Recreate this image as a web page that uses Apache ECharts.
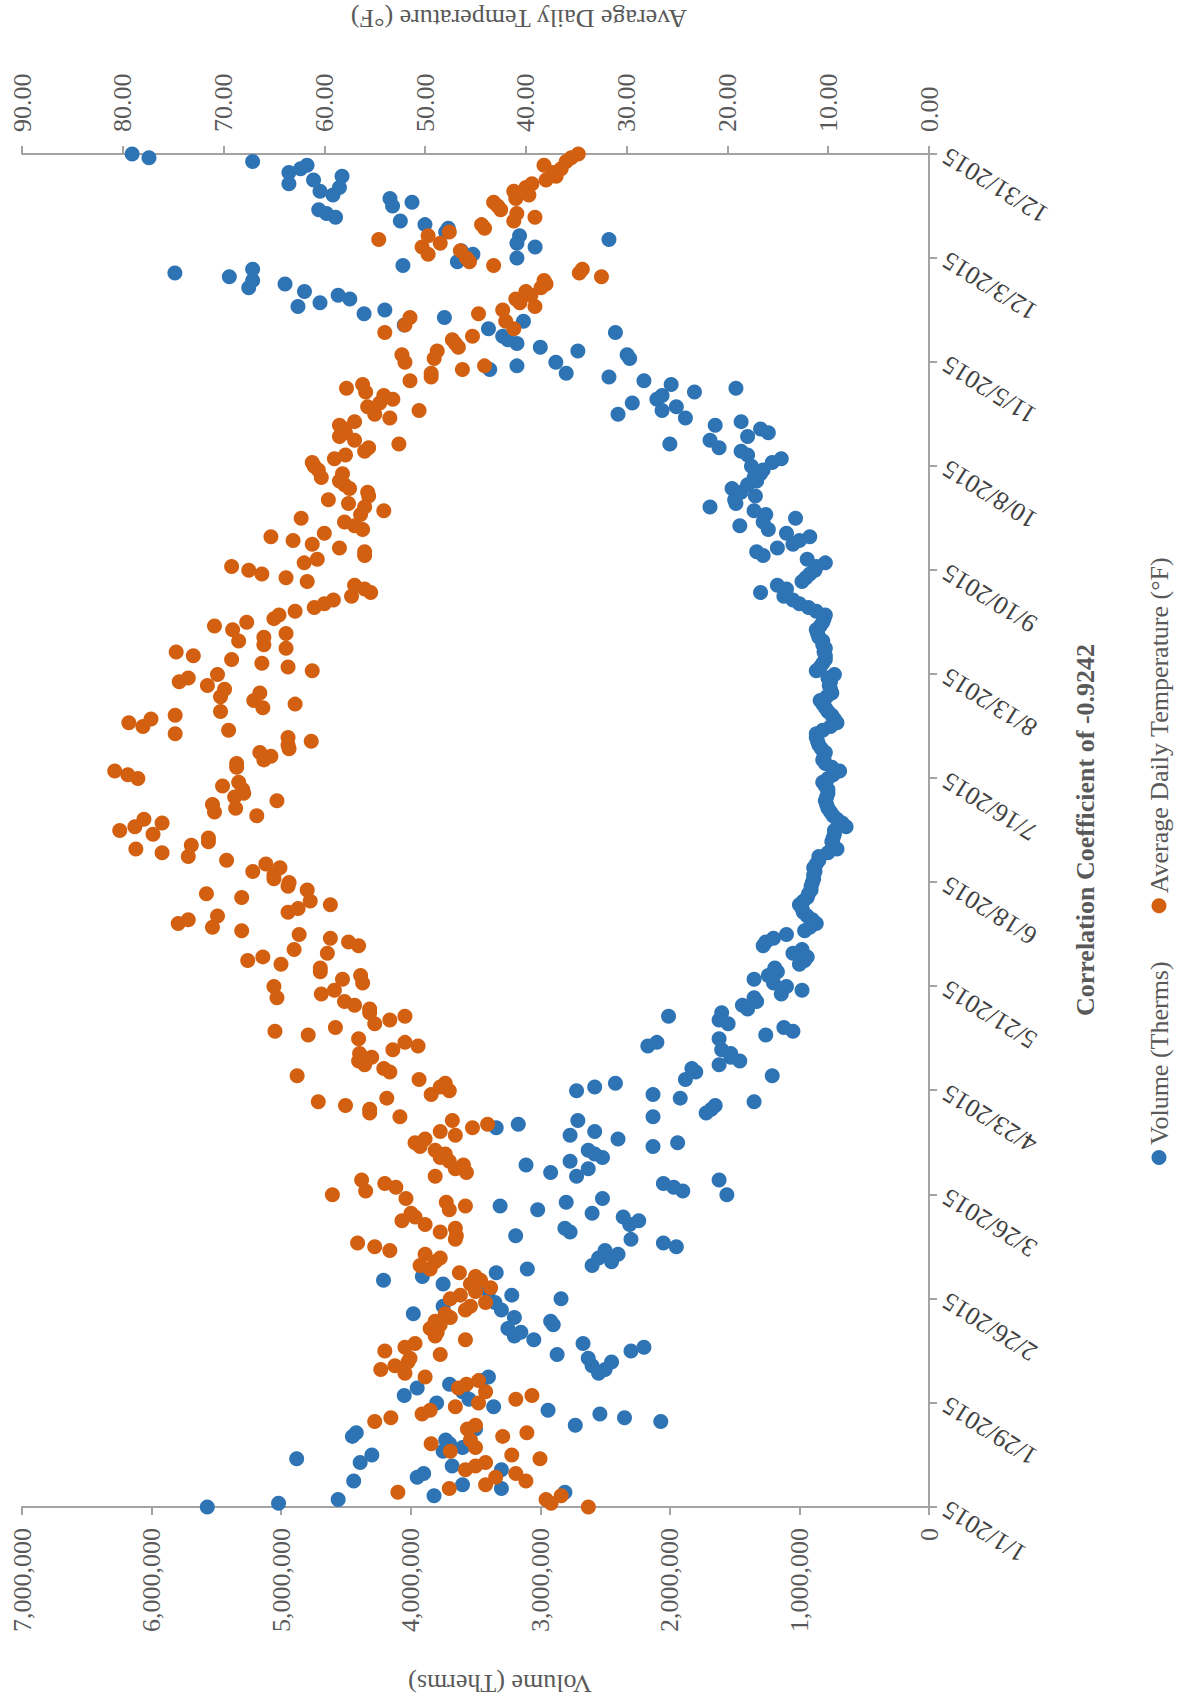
<!DOCTYPE html>
<html><head><meta charset="utf-8">
<script src="https://cdn.jsdelivr.net/npm/echarts@6/dist/echarts.min.js"></script>
<style>
html,body{margin:0;padding:0;background:#fff;width:1181px;height:1702px;overflow:hidden}
#chart{position:absolute;left:0;top:0;width:1702px;height:1181px;transform-origin:0 0;transform:translateY(1702px) rotate(-90deg);}
</style></head>
<body><div id="chart"></div>
<script>
// Chart drawn in its natural orientation, then the whole chart is turned 90° counter-clockwise (as in the reference).
const chartTitle = 'Correlation Coefficient of -0.9242';
const seriesNames = ['Volume (Therms)', 'Average Daily Temperature (°F)'];
const startDate = [2015, 0, 1];   // day 0 = 1/1/2015, one value per day through 12/31/2015
const dateTickStep = 28;          // 1/1, 1/29, 2/26 ... 12/31
const volumeTicks = [0, 1000000, 2000000, 3000000, 4000000, 5000000, 6000000, 7000000];
const tempTicks = [0, 10, 20, 30, 40, 50, 60, 70, 80, 90];

// Daily gas volume, millions of therms
const volumeMillions = [
5.57,5.02,4.56,3.82,2.81,3.30,3.60,4.44,3.95,3.90,
3.30,3.68,4.39,4.88,4.30,3.75,3.60,3.70,3.73,4.45,
4.42,3.50,2.73,2.07,2.35,2.54,2.94,3.36,3.80,3.55,
4.05,3.60,3.95,3.70,3.45,3.40,2.55,2.50,2.60,2.45,
2.63,2.87,2.30,2.20,2.67,3.05,3.20,3.15,3.25,2.90,
2.92,3.20,3.98,3.30,3.75,3.35,2.84,3.22,3.40,3.50,
3.75,4.21,3.91,3.34,3.10,2.60,2.45,2.55,2.40,2.50,
1.95,2.05,2.30,3.19,2.77,2.81,2.31,2.24,2.36,2.60,
3.02,3.31,2.80,2.52,1.56,1.90,1.97,2.05,1.62,2.72,
2.92,2.63,3.11,2.77,2.52,2.58,2.63,2.13,1.94,2.40,
2.77,2.58,3.34,3.17,2.71,2.13,1.72,1.68,1.65,1.35,
1.92,2.13,2.72,2.58,2.42,1.88,1.21,1.80,1.83,1.62,
1.46,1.53,1.53,1.60,2.17,2.10,1.62,1.26,1.05,1.12,
1.55,1.62,2.01,1.60,1.40,1.44,1.33,1.35,1.14,0.98,
1.10,1.20,1.35,1.24,1.17,1.19,1.00,0.96,0.94,1.05,
0.98,1.28,1.26,1.20,1.10,0.96,0.92,0.87,0.90,0.94,
0.97,0.98,1.00,0.97,0.94,0.93,0.91,0.91,0.90,0.89,
0.89,0.88,0.89,0.87,0.85,0.85,0.78,0.71,0.74,0.75,
0.74,0.73,0.73,0.64,0.67,0.71,0.74,0.76,0.78,0.79,
0.80,0.79,0.78,0.78,0.80,0.82,0.78,0.74,0.69,0.75,
0.80,0.82,0.81,0.80,0.83,0.85,0.86,0.87,0.87,0.82,
0.76,0.71,0.73,0.75,0.78,0.80,0.82,0.84,0.79,0.75,
0.76,0.77,0.76,0.78,0.73,0.87,0.84,0.82,0.80,0.80,
0.81,0.80,0.82,0.82,0.85,0.86,0.87,0.84,0.82,0.81,
0.80,0.87,0.93,1.00,1.05,1.12,1.30,1.10,1.17,0.98,
0.95,0.92,0.88,0.87,0.80,0.94,1.28,1.33,1.17,1.05,
1.00,0.92,1.10,1.24,1.46,1.28,1.03,1.26,1.35,1.69,
1.49,1.50,1.34,1.45,1.52,1.40,1.33,1.35,1.30,1.28,
1.37,1.21,1.14,1.40,1.45,1.62,2.00,1.69,1.40,1.24,
1.30,1.65,1.45,1.88,2.40,2.06,1.95,2.29,2.10,2.06,
1.81,1.49,1.99,2.20,2.47,2.80,3.39,3.18,2.88,2.31,
2.33,2.71,3.00,3.18,3.25,3.29,2.42,3.40,4.05,3.13,
3.74,4.36,4.20,4.87,4.70,4.47,4.56,4.82,5.25,4.97,
5.22,5.40,5.82,5.22,4.06,3.64,3.18,3.52,3.61,3.04,
3.18,2.47,3.16,3.73,3.71,3.89,4.08,4.58,4.65,4.71,
4.14,3.99,4.16,4.60,4.70,4.55,4.94,4.75,4.53,4.94,
4.85,4.80,5.22,6.02,6.15
];

// Average daily temperature, °F
const temperatureF = [
33.8,37.5,38.0,36.5,52.7,47.6,44.0,40.0,43.0,41.0,
46.0,45.0,44.0,38.6,41.4,47.5,45.0,49.4,45.5,42.3,
39.9,45.8,45.0,55.0,53.4,50.3,49.5,47.0,44.7,41.0,
39.4,44.0,46.7,45.9,44.7,50.0,52.0,54.4,53.0,51.7,
51.5,48.5,54.0,52.0,51.0,46.0,49.0,48.8,49.5,48.5,
49.0,47.5,48.0,46.0,45.5,44.0,47.5,46.5,45.0,43.5,
45.5,44.5,45.0,46.6,49.5,50.5,49.0,48.5,50.0,53.5,
55.0,56.7,47.0,46.9,48.5,47.0,50.0,52.3,51.0,51.4,
47.6,46.0,47.9,51.9,59.2,55.9,52.9,54.0,56.3,49.0,
45.9,47.0,46.2,47.6,48.5,48.0,49.0,50.5,51.0,50.0,
47.0,48.5,45.3,43.8,47.3,52.5,55.5,55.5,57.9,60.6,
53.8,49.4,47.6,48.5,48.0,50.6,62.7,53.5,54.1,56.0,
56.6,55.3,56.5,53.2,50.7,52.0,56.6,61.6,64.9,58.9,
55.0,53.5,52.0,55.5,55.5,57.0,58.0,64.7,60.3,59.0,
65.0,56.2,58.2,56.4,60.4,60.4,64.3,67.6,66.1,59.7,
63.0,56.6,57.6,59.4,62.5,68.2,71.1,74.5,73.5,70.6,
63.6,62.6,59.4,61.4,68.2,71.7,61.7,63.6,63.5,65.0,
65.0,67.1,64.4,65.8,69.7,73.5,76.1,78.7,73.2,71.5,
71.5,77.0,80.3,78.8,76.1,77.9,66.7,70.9,68.8,71.1,
64.7,68.9,68.0,68.1,70.1,68.5,78.5,79.5,80.8,68.7,
68.7,66.0,65.3,66.4,63.5,63.6,61.3,63.6,74.8,69.5,
78.0,79.4,77.2,74.8,70.3,66.1,62.9,67.0,70.3,66.4,
69.9,71.6,74.4,73.5,70.6,61.2,63.6,66.2,69.2,73.0,
74.7,63.8,66.0,68.5,66.0,63.8,69.1,70.9,67.7,65.0,
64.5,62.9,61.0,60.0,59.1,57.3,55.4,56.0,57.0,61.7,
63.8,66.2,67.5,69.2,62.0,60.7,56.0,56.0,58.5,61.2,
63.1,65.3,60.0,56.2,57.0,58.0,62.3,56.4,54.1,56.0,
57.6,59.6,55.6,55.7,57.5,58.0,58.5,60.3,58.2,60.6,
61.0,61.2,59.0,57.9,56.0,55.6,52.6,57.0,58.5,57.9,
58.0,58.5,57.0,53.5,55.0,50.6,55.7,54.5,53.2,54.1,
55.9,57.8,56.2,51.5,49.4,49.4,46.3,44.1,52.0,49.1,
52.3,48.8,46.7,47.0,47.3,45.3,54.0,41.2,52.0,42.0,
51.5,44.7,42.3,39.1,40.6,41.0,39.5,40.0,38.5,38.0,
38.2,32.5,34.7,34.4,43.2,45.6,45.9,49.7,46.5,50.3,
48.5,54.6,49.7,47.6,44.1,44.4,41.2,39.1,40.9,42.5,
42.8,43.2,41.0,39.7,41.2,40.0,39.4,38.0,37.0,37.3,
36.5,38.2,36.0,35.5,34.8
];

const FONT = "'Liberation Serif','Times New Roman',serif";
const AXIS_COLOR = '#A3A3A3';
const LABEL_COLOR = '#595959';
const BLUE = '#2E74B5';
const ORANGE = '#D35F10';

const volumeData = volumeMillions.map((v, i) => [i, Math.round(v * 1e6)]);
const tempData = temperatureF.map((t, i) => [i, t]);
const lastDay = volumeMillions.length - 1;

function dayLabel(d) {
  const dt = new Date(startDate[0], startDate[1], startDate[2] + Math.round(d));
  return (dt.getMonth() + 1) + '/' + dt.getDate() + '/' + dt.getFullYear();
}

const chart = echarts.init(document.getElementById('chart'), null, {renderer: 'svg'});
const axisLine = {show: true, lineStyle: {color: AXIS_COLOR, width: 2}};
const axisTick = {show: true, inside: false, length: 8, lineStyle: {color: AXIS_COLOR, width: 2}};

chart.setOption({
  animation: false,
  backgroundColor: '#ffffff',
  textStyle: {fontFamily: FONT},
  grid: {left: 195, right: 154, top: 22, bottom: 252, containLabel: false},
  legend: {
    left: 537, top: 1146, padding: 0, itemGap: 48, itemWidth: 15, itemHeight: 15,
    icon: 'circle', data: seriesNames,
    textStyle: {fontFamily: FONT, fontSize: 26, color: LABEL_COLOR}
  },
  xAxis: {
    type: 'value', min: 0, max: lastDay, interval: dateTickStep,
    axisLine, axisTick, splitLine: {show: false},
    axisLabel: {rotate: 58, margin: 16, fontFamily: FONT, fontSize: 26, color: '#404040',
      formatter: v => dayLabel(v)}
  },
  yAxis: [
    {
      type: 'value', position: 'left', min: volumeTicks[0], max: volumeTicks[volumeTicks.length - 1],
      interval: volumeTicks[1] - volumeTicks[0],
      axisLine, axisTick, splitLine: {show: false},
      axisLabel: {margin: 21, fontFamily: FONT, fontSize: 26, color: LABEL_COLOR,
        formatter: v => Math.round(v).toLocaleString('en-US')}
    },
    {
      type: 'value', position: 'right', min: tempTicks[0], max: tempTicks[tempTicks.length - 1],
      interval: tempTicks[1] - tempTicks[0],
      axisLine, axisTick, splitLine: {show: false},
      axisLabel: {margin: 22, fontFamily: FONT, fontSize: 26, color: LABEL_COLOR,
        formatter: v => v.toFixed(2)}
    }
  ],
  graphic: [
    {type: 'text', x: 19, y: 500, rotation: Math.PI / 2,
      style: {text: 'Volume (Therms)', x: 0, y: 0, align: 'center', verticalAlign: 'middle',
        font: "26px 'Liberation Serif', serif", fill: LABEL_COLOR}},
    {type: 'text', x: 1684, y: 519, rotation: Math.PI / 2,
      style: {text: 'Average Daily Temperature (°F)', x: 0, y: 0, align: 'center', verticalAlign: 'middle',
        font: "26px 'Liberation Serif', serif", fill: LABEL_COLOR}},
    {type: 'text', x: 872, y: 1085,
      style: {text: chartTitle, x: 0, y: 0, align: 'center', verticalAlign: 'middle',
        font: "bold 26px 'Liberation Serif', serif", fill: LABEL_COLOR}}
  ],
  series: [
    {name: seriesNames[0], type: 'scatter', xAxisIndex: 0, yAxisIndex: 0, data: volumeData,
      symbol: 'circle', symbolSize: 15, itemStyle: {color: BLUE, opacity: 1}},
    {name: seriesNames[1], type: 'scatter', xAxisIndex: 0, yAxisIndex: 1, data: tempData,
      symbol: 'circle', symbolSize: 15, itemStyle: {color: ORANGE, opacity: 1}}
  ]
});
</script>
</body></html>
